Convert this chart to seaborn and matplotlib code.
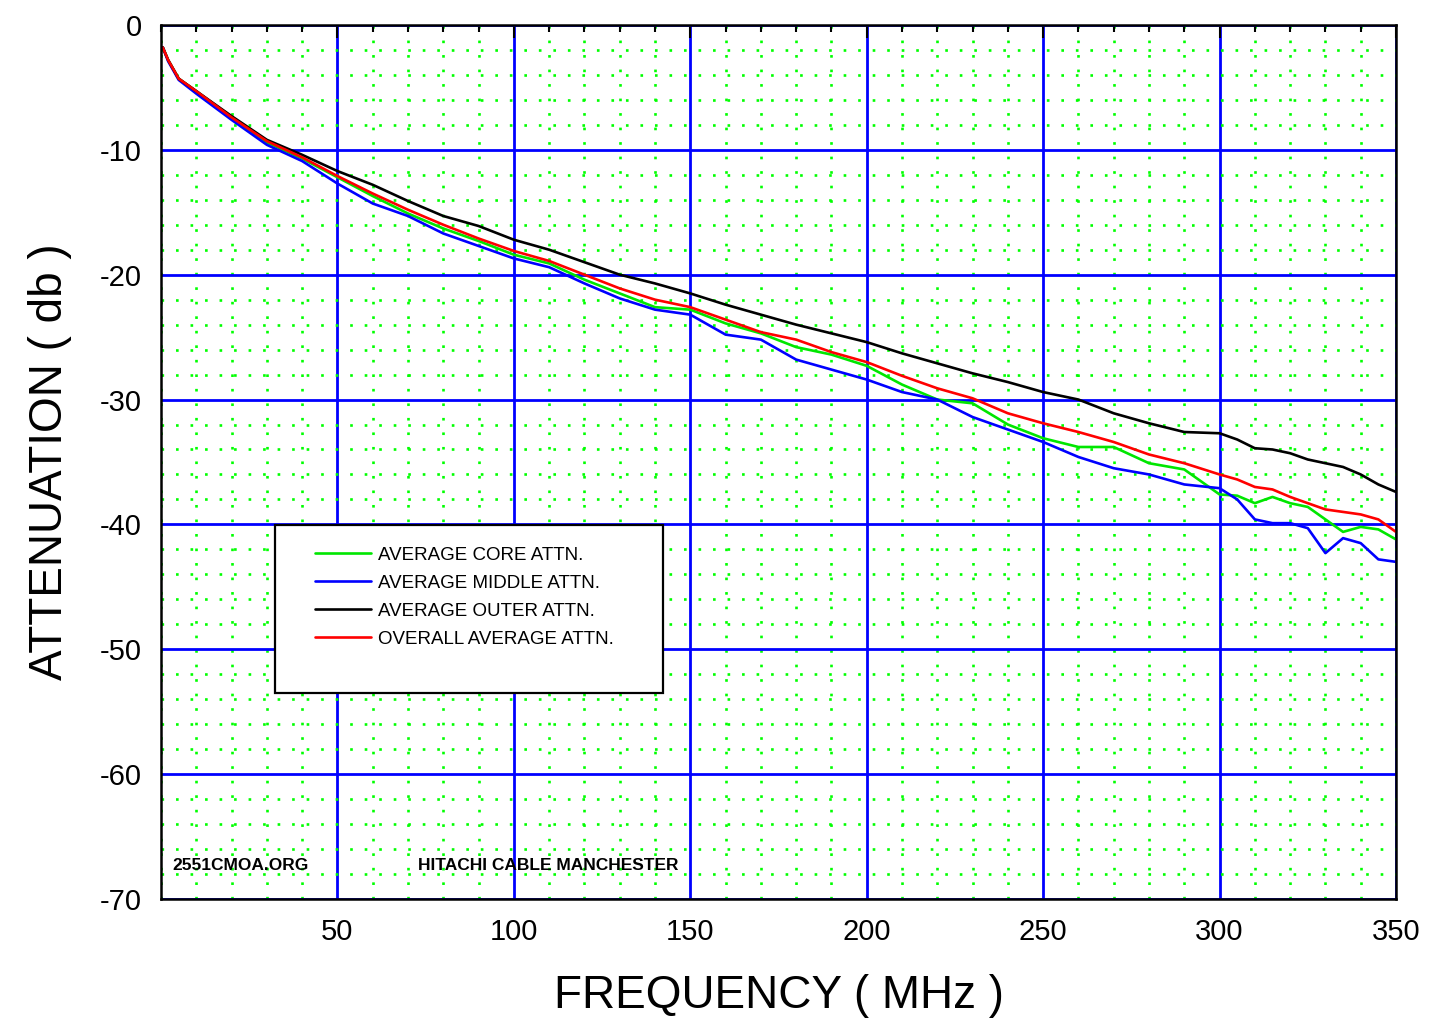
import matplotlib
matplotlib.use("Agg")
import matplotlib.pyplot as plt
from matplotlib.patches import Rectangle
from matplotlib.ticker import MultipleLocator, FixedLocator
import seaborn as sns
import pandas as pd

freq = [0.5, 2, 5, 10, 20, 30, 40, 50, 60, 70, 80, 90, 100, 110, 120, 130, 140, 150,
        160, 170, 180, 190, 200, 210, 220, 230, 240, 250, 260, 270, 280, 290, 300,
        305, 310, 315, 320, 325, 330, 335, 340, 345, 350]

core = [-1.8, -2.8, -4.3, -5.3, -7.4, -9.4, -10.7, -12.2, -13.7, -15.1, -16.3, -17.3,
        -18.4, -19.1, -20.4, -21.5, -22.6, -22.8, -23.9, -24.7, -25.8, -26.4, -27.3,
        -28.8, -30.0, -30.3, -32.0, -33.1, -33.8, -33.8, -35.1, -35.6, -37.6, -37.7,
        -38.3, -37.8, -38.3, -38.6, -39.6, -40.6, -40.2, -40.4, -41.2]

middle = [-1.8, -2.9, -4.4, -5.5, -7.6, -9.6, -10.9, -12.7, -14.3, -15.3, -16.7, -17.7,
          -18.7, -19.4, -20.7, -21.9, -22.8, -23.2, -24.8, -25.2, -26.8, -27.6, -28.4,
          -29.4, -30.0, -31.4, -32.4, -33.4, -34.6, -35.5, -36.0, -36.8, -37.1, -38.0,
          -39.6, -39.9, -39.9, -40.3, -42.3, -41.1, -41.5, -42.8, -43.0]

outer = [-1.8, -2.8, -4.3, -5.3, -7.3, -9.2, -10.4, -11.7, -12.8, -14.1, -15.3, -16.1,
         -17.2, -18.0, -19.0, -20.0, -20.7, -21.5, -22.4, -23.2, -24.0, -24.7, -25.4,
         -26.3, -27.1, -27.9, -28.6, -29.4, -30.0, -31.1, -31.9, -32.6, -32.7, -33.2,
         -33.9, -34.0, -34.3, -34.8, -35.1, -35.4, -36.0, -36.8, -37.4]

overall = [-1.8, -2.8, -4.3, -5.3, -7.4, -9.3, -10.6, -12.1, -13.5, -14.8, -16.0, -17.1,
           -18.1, -18.9, -20.0, -21.1, -22.0, -22.6, -23.6, -24.6, -25.2, -26.2, -27.0,
           -28.1, -29.1, -29.9, -31.1, -31.9, -32.6, -33.4, -34.4, -35.1, -36.0, -36.4,
           -37.0, -37.2, -37.8, -38.3, -38.8, -39.0, -39.2, -39.6, -40.6]

series_names = ["AVERAGE CORE ATTN.", "AVERAGE MIDDLE ATTN.",
                "AVERAGE OUTER ATTN.", "OVERALL AVERAGE ATTN."]
series_values = [core, middle, outer, overall]
series_colors = ["#00e600", "#0000ff", "#000000", "#ff0000"]

x_tick_values = [50, 100, 150, 200, 250, 300, 350]
y_tick_values = [0, -10, -20, -30, -40, -50, -60, -70]

rows = []
for name, vals in zip(series_names, series_values):
    for f, v in zip(freq, vals):
        rows.append({"freq": f, "att": v, "series": name})
df = pd.DataFrame(rows)

sns.set_theme(style="white")
plt.rcParams["font.family"] = ["Liberation Sans", "DejaVu Sans"]
plt.rcParams["axes.unicode_minus"] = False
plt.rcParams["text.color"] = "black"
plt.rcParams["axes.labelcolor"] = "black"
plt.rcParams["xtick.color"] = "black"
plt.rcParams["ytick.color"] = "black"

fig = plt.figure(figsize=(14.29, 10.24), dpi=100)
ax = fig.add_axes([0.1127, 0.1221, 0.8642, 0.8535])

sns.lineplot(data=df, x="freq", y="att", hue="series", hue_order=series_names,
             palette=dict(zip(series_names, series_colors)), linewidth=1.9,
             ax=ax, legend="auto", sort=False)

ax.set_xlim(0, 350)
ax.set_ylim(-70, 0)
ax.xaxis.set_major_locator(FixedLocator(x_tick_values))
ax.xaxis.set_minor_locator(MultipleLocator(10))
ax.yaxis.set_major_locator(FixedLocator(y_tick_values))
ax.yaxis.set_minor_locator(MultipleLocator(2))

ax.set_axisbelow(True)
ax.grid(which="minor", color="#00ff00", linestyle=(0, (1, 4.5)), linewidth=1.9)
ax.grid(which="major", color="#0000ff", linestyle="-", linewidth=2.0)

ax.tick_params(which="both", direction="in", top=True, right=False, color="black",
               width=1.5)
ax.tick_params(which="major", length=9, labelsize=21, pad=14)
ax.tick_params(which="minor", length=5)
ax.tick_params(axis="y", pad=14)

for s in ax.spines.values():
    s.set_visible(True)
    s.set_color("black")
    s.set_linewidth(1.8)

ax.set_xlabel("FREQUENCY ( MHz )", fontsize=33, labelpad=20)
ax.set_ylabel("ATTENUATION ( db )", fontsize=33, labelpad=20)

# legend box
ax.add_patch(Rectangle((0.0923, 0.236), 0.3142, 0.192, transform=ax.transAxes,
                       facecolor="white", edgecolor="black", linewidth=1.6, zorder=5))
h, l = ax.get_legend_handles_labels()
leg = ax.legend(h, l, loc="upper left", bbox_to_anchor=(0.1247, 0.403),
                frameon=False, fontsize=13.5, handlelength=3.0, handletextpad=0.35,
                labelspacing=0.58, borderpad=0, borderaxespad=0)
leg.set_zorder(6)

ax.text(3.1, -67.3, "2551CMOA.ORG", fontsize=12.5, va="center", ha="left",
        fontweight="bold")
ax.text(72.8, -67.3, "HITACHI CABLE MANCHESTER", fontsize=12.5, va="center",
        ha="left", fontweight="bold")

fig.savefig("out.png", dpi=100, facecolor="white")
